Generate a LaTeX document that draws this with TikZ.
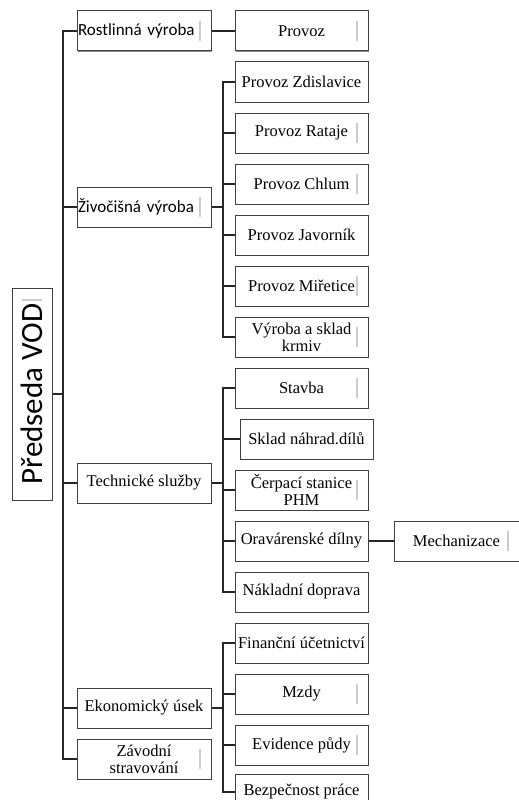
\documentclass[tikz,border=0pt]{standalone}
\usepackage{fontspec}
\setmainfont{Liberation Serif}
\newfontfamily\calibri{Carlito}
\usetikzlibrary{calc}
\usetikzlibrary{positioning}
\usetikzlibrary{shadows}
\tikzset{node distance=10pt, % gap between two boxes of one column
  every node/.style={           align=center,
},
         box/.style={ % common look of every box
           draw=black!75, line width=1pt, fill=white,
           drop shadow={shadow xshift=1.3pt, shadow yshift=-1.3pt, opacity=.9},
           minimum height=40pt, inner sep=1pt,
           font=\fontsize{16.5}{17}\selectfont},
         dept/.style={box, minimum width=134pt},   % first level
         unit/.style={box, minimum width=133pt},   % second level
         sans/.style={font=\calibri\fontsize{17}{17}\selectfont,
           align=left, text width=132pt},
         chef/.style={box, rotate=90, minimum width=212pt,
           font=\calibri\fontsize{31}{31}\selectfont},
         conn/.style={draw=black!85, line width=2pt},
         greybar/.style={draw=black!20, line width=2pt}}

\begin{document}
\begin{tikzpicture}[x=1pt, y=-1pt]
  \useasboundingbox (0,0) rectangle (519,800);

  \node [chef] (chef) at (32,394) {Předseda VOD};

  \node [dept, sans] (rost) at (144,31) {Rostlinná výroba};
  \node [dept, sans] (zivo) at (144,207) {Živočišná výroba};
  \node [dept] (tech) at (144,483) {Technické služby};
  \node [dept] (ekon) at (144,708) {Ekonomický úsek};
  \node [dept, below=of ekon] (zav) {Závodní\\stravování};

  \node [unit] (provoz) at (301.5,31) {Provoz};
  \node [unit, below=of provoz] (zdis) {Provoz Zdislavice};
  \node [unit, below=of zdis] (rataje) {Provoz Rataje};
  \node [unit, below=of rataje] (chlum) {Provoz Chlum};
  \node [unit, below=of chlum] (javor) {Provoz Javorník};
  \node [unit, below=of javor] (miret) {Provoz Miřetice};
  \node [unit, below=of miret] (krmiv) {Výroba a sklad\\krmiv};
  \node [unit, below=of krmiv] (stavba) {Stavba};
  \node [unit, below=of stavba, xshift=5pt] (sklad) {Sklad náhrad.dílů};
  \node [unit, below=of sklad, xshift=-5pt] (cerp) {Čerpací stanice\\PHM};
  \node [unit, below=of cerp] (orav) {Oravárenské dílny};
  \node [unit, below=of orav] (naklad) {Nákladní doprava};
  \node [unit, below=of naklad] (fin) {Finanční účetnictví};
  \node [unit, below=of fin] (mzdy) {Mzdy};
  \node [unit, below=of mzdy] (evid) {Evidence půdy};
  \node [unit, below=8pt of evid, minimum height=36pt] (bezp) {Bezpečnost práce};

  \node [box, minimum width=125pt, right=25pt of orav] (mech) {Mechanizace};

  % grey marks inside the boxes
  \foreach \n in {chef,rost,zivo,zav,provoz,rataje,chlum,miret,krmiv,stavba,cerp,mech,mzdy,evid}
    \draw [greybar]
      ($($(\n.north east)!12pt!(\n.north west)$)!0.25!($(\n.south east)!12pt!(\n.south west)$)$)
      -- ($($(\n.north east)!12pt!(\n.north west)$)!0.75!($(\n.south east)!12pt!(\n.south west)$)$);

  \coordinate (spine) at (63,0);
  \coordinate (sub) at (223,0);

  % main line
  \draw [conn] (rost.west) -| (spine |- zav.west) -- (zav.west);
  \draw [conn] (chef.south) -- (chef.south -| spine);
  \foreach \n in {zivo,tech,ekon}
    \draw [conn] (\n.west) -- (\n.west -| spine);

  \draw [conn] (rost.east) -- (provoz.west);

  % Zivocisna vyroba
  \draw [conn] (zivo.east) -- (zivo.east -| sub);
  \draw [conn] (zdis.west) -| (sub |- krmiv.west) -- (krmiv.west);
  \foreach \n in {rataje,chlum,javor,miret}
    \draw [conn] (\n.west) -- (\n.west -| sub);

  % Technicke sluzby
  \draw [conn] (tech.east) -- (tech.east -| sub);
  \draw [conn] (stavba.west) -| (sub |- naklad.west) -- (naklad.west);
  \foreach \n in {sklad,cerp,orav}
    \draw [conn] (\n.west) -- (\n.west -| sub);
  \draw [conn] (orav.east) -- (mech.west);

  % Ekonomicky usek
  \draw [conn] (ekon.east) -- (ekon.east -| sub);
  \draw [conn] (fin.west) -| (sub |- bezp.west) -- (bezp.west);
  \foreach \n in {mzdy,evid}
    \draw [conn] (\n.west) -- (\n.west -| sub);

\end{tikzpicture}
\end{document}
